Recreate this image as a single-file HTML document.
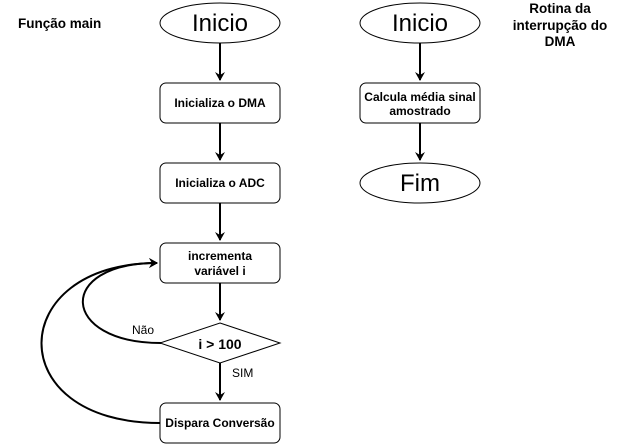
<!DOCTYPE html>
<html><head><meta charset="utf-8"><style>
html,body{margin:0;padding:0;background:#fff;}
svg{display:block;font-family:"Liberation Sans",sans-serif;}
.b{font-weight:bold;font-size:12px;}
</style></head><body>
<svg width="621" height="444" viewBox="0 0 621 444" xmlns="http://www.w3.org/2000/svg">
<defs><marker id="a" markerWidth="10" markerHeight="10" refX="8" refY="5" orient="auto" markerUnits="userSpaceOnUse"><path d="M0,0 L9,5 L0,10 L3,5 Z" fill="#000"/></marker></defs>
<g fill="none" stroke="#000" stroke-width="2">
<line x1="220" y1="43" x2="220" y2="80" marker-end="url(#a)"/>
<line x1="220" y1="123" x2="220" y2="160" marker-end="url(#a)"/>
<line x1="220" y1="203" x2="220" y2="240" marker-end="url(#a)"/>
<line x1="220" y1="283" x2="220" y2="320" marker-end="url(#a)"/>
<line x1="220" y1="363" x2="220" y2="400" marker-end="url(#a)"/>
<line x1="420" y1="43" x2="420" y2="80" marker-end="url(#a)"/>
<line x1="420" y1="123" x2="420" y2="160" marker-end="url(#a)"/>
<path d="M161 343 C 60 343, 55 263, 157 263" marker-end="url(#a)"/>
<path d="M160 423 C 0 423, 5 263, 157 263" marker-end="url(#a)"/>
</g>
<g fill="#fff" stroke="#000" stroke-width="1">
<ellipse cx="220" cy="23" rx="60" ry="20"/>
<ellipse cx="420" cy="23" rx="60" ry="20"/>
<ellipse cx="420" cy="183" rx="60" ry="20"/>
<rect x="160" y="83" width="120" height="40" rx="6"/>
<rect x="160" y="163" width="120" height="40" rx="6"/>
<rect x="160" y="243" width="120" height="40" rx="6"/>
<rect x="160" y="403" width="120" height="40" rx="6"/>
<rect x="360" y="83" width="120" height="40" rx="6"/>
<polygon points="220,323 280,343 220,363 160,343"/>
</g>
<g text-anchor="middle" fill="#000">
<text x="220" y="31" font-size="24">Inicio</text>
<text x="420" y="31" font-size="24">Inicio</text>
<text x="420" y="191" font-size="24">Fim</text>
<text x="220" y="107" class="b">Inicializa o DMA</text>
<text x="220" y="187" class="b">Inicializa o ADC</text>
<text x="220" y="260" class="b">incrementa</text>
<text x="220" y="275" class="b">variável i</text>
<text x="220" y="349" class="b" style="font-size:14px">i &gt; 100</text>
<text x="220" y="427" class="b">Dispara Conversão</text>
<text x="420" y="101" class="b">Calcula média sinal</text>
<text x="420" y="115" class="b">amostrado</text>
<text x="560" y="13" class="b" style="font-size:13.5px">Rotina da</text>
<text x="560" y="30" class="b" style="font-size:13.5px">interrupção do</text>
<text x="560" y="46" class="b" style="font-size:13.5px">DMA</text>
</g>
<text x="18" y="28" class="b" style="font-size:13.5px">Função main</text>
<text x="132" y="334" font-size="12">Não</text>
<text x="232" y="377" font-size="12">SIM</text>
</svg>
</body></html>
